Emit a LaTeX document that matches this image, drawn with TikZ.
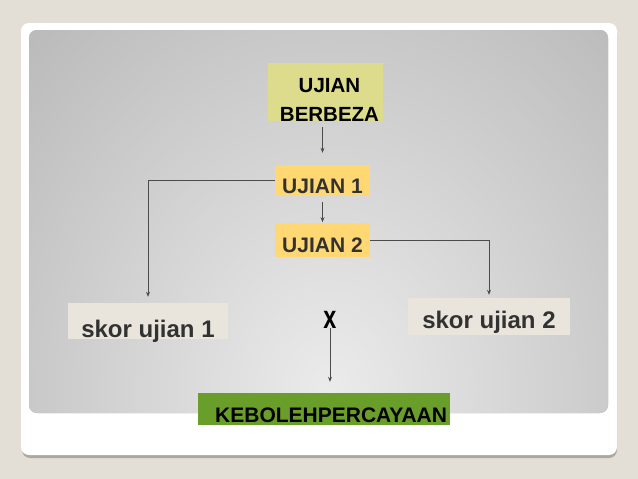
\documentclass[tikz,border=0pt]{standalone}
\usepackage{fontspec}
\setmainfont{Liberation Sans}
\usetikzlibrary{positioning, arrows.meta, shapes}

\definecolor{pagebg}{RGB}{228,223,214}
\definecolor{cardshadow}{RGB}{172,168,160}
\definecolor{paneldark}{RGB}{164,164,164}
\definecolor{panellight}{RGB}{235,235,235}
\definecolor{olivebox}{RGB}{221,220,140}
\definecolor{goldbox}{RGB}{255,216,115}
\definecolor{beigebox}{RGB}{233,229,220}
\definecolor{greenbox}{RGB}{106,158,43}
\definecolor{inkgray}{RGB}{50,50,50}
\definecolor{linegray}{RGB}{75,75,75}

\begin{document}
\begin{tikzpicture}[x=1pt, y=-1pt,
                box/.style={rectangle, inner sep=0pt, font=\bfseries\fontsize{21}{25}\selectfont},
                arr/.style={-{Stealth[length=5pt, width=4pt]}, draw=linegray, line width=0.8pt}]
                \useasboundingbox (0,0) rectangle (638,479);
                \fill[pagebg] (0,0) rectangle (638,479);
                \fill[cardshadow, rounded corners=8pt] (22,27) rectangle (617,458);
                \fill[white, rounded corners=8pt] (21,23) rectangle (617,455);
                \fill[paneldark, rounded corners=8pt] (29,30) rectangle (608,413);
                \begin{scope}
                    \clip[rounded corners=8pt] (29,30) rectangle (608,413);
                    \shade[inner color=panellight, outer color=paneldark] (330,390) ellipse [x radius=620pt, y radius=740pt];
                \end{scope}

                \node[box, fill=olivebox, font=\bfseries\fontsize{20.5}{24}\selectfont, minimum width=115pt, minimum height=58pt, text height=58pt, text depth=0pt] (B) at (325.5,92) {\hspace*{8pt}\shortstack{UJIAN\\[11pt]BERBEZA}};
                \node[box, fill=goldbox, text=inkgray, minimum width=95pt, minimum height=31pt, text height=28pt, text depth=3pt] (U1) at (322.5,180.5) {UJIAN 1};
                \node[box, fill=goldbox, text=inkgray, minimum width=95pt, minimum height=34pt, text height=29pt, text depth=5pt, below=27pt of U1] (U2) {UJIAN 2};
                \node[box, fill=beigebox, text=inkgray, font=\bfseries\fontsize{24}{28}\selectfont, minimum width=160pt, minimum height=36pt, text height=34pt, text depth=2pt] (S1) at (148,321) {skor ujian 1};
                \node[box, fill=beigebox, text=inkgray, font=\bfseries\fontsize{24}{28}\selectfont, minimum width=162pt, minimum height=37pt, text height=30pt, text depth=7pt] (S2) at (489,316.5) {skor ujian 2};
                \node[box, font=\bfseries\fontsize{26}{30}\selectfont, anchor=base] (X) at (330,328) {\scalebox{0.9}[1.25]{x}};
                \node[box, fill=greenbox, text width=246pt, inner xsep=3pt, align=right, minimum height=32pt, text height=29pt, text depth=3pt] (K) at (324,409) {KEBOLEHPERCAYAAN};

                \draw[arr, shorten <=6pt, shorten >=12pt] (B.south -| U1) -- (U1);
                \draw[arr, shorten <=6pt, shorten >=1pt] (U1) -- (U2);
                \draw[arr, shorten >=6pt] (U1.west) -| (S1);
                \draw[arr, shorten >=3pt] (U2.east) -| (S2);
                \draw[arr, shorten >=11pt] (X.south) -- (X.south |- K.north);
            \end{tikzpicture}
\end{document}
